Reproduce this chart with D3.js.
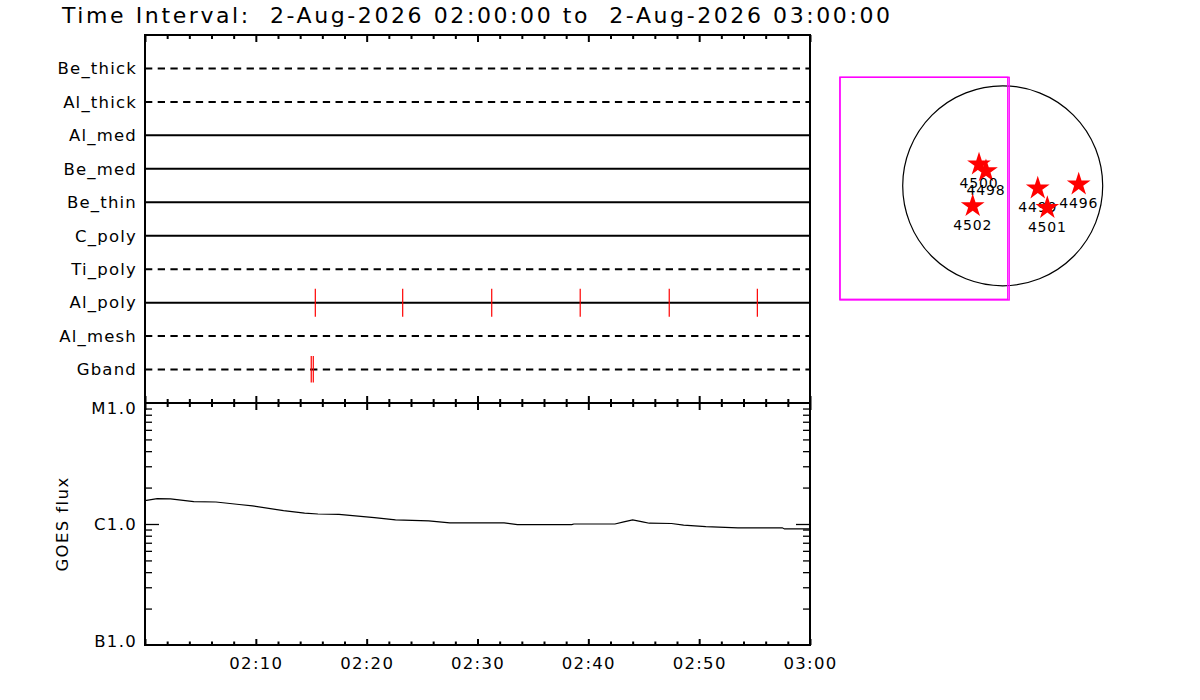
<!DOCTYPE html>
<html><head><meta charset="utf-8">
<script src="https://cdn.jsdelivr.net/npm/d3@7"></script>
<style>
body{margin:0;background:#fff;}
svg text{font-family:"DejaVu Sans",sans-serif;fill:#000;}
</style></head><body>
<svg id="c" width="1200" height="700"></svg>
<script>
// ---------------- data ----------------
const titleText = "Time Interval:  2-Aug-2026 02:00:00 to  2-Aug-2026 03:00:00";
const dayStr = "2026-08-02";
const startClock = "02:00:00", endClock = "03:00:00";
const channels = ["Be_thick","Al_thick","Al_med","Be_med","Be_thin","C_poly","Ti_poly","Al_poly","Al_mesh","Gband"];
const channelActive = [0,0,1,1,1,1,0,1,0,0];
const alPolyTimes = ["02:15:22","02:23:15","02:31:17","02:39:16","02:47:18","02:55:15"];
const gbandTimes = ["02:15:00","02:15:11"];
const timeTickLabels = ["02:10","02:20","02:30","02:40","02:50","03:00"];
const goesMinutes = [0, 1.1, 2.3, 4.4, 6.4, 8.5, 9.7, 12.5, 14.4, 15.6, 17.5, 20.7, 22.6, 25.6, 27.5, 32.4, 33.6, 38.5, 38.7, 42.4, 43.2, 44.0, 44.9, 45.5, 47.5, 48.6, 50.6, 53.5, 57.5, 57.7, 60.0];
const goesFlux = [1.56e-6,1.62e-6,1.61e-6,1.53e-6,1.52e-6,1.45e-6,1.41e-6,1.29e-6,1.23e-6,1.21e-6,1.20e-6,1.13e-6,1.08e-6,1.06e-6,1.02e-6,1.02e-6,0.99e-6,0.99e-6,1.00e-6,1.00e-6,1.04e-6,1.08e-6,1.04e-6,1.015e-6,1.01e-6,0.98e-6,0.95e-6,0.93e-6,0.93e-6,0.91e-6,0.91e-6];
const goesTickValues = [1e-7,1e-6,1e-5];
const goesTickLabels = ["B1.0","C1.0","M1.0"];
const goesMinorTicks = [2e-7,3e-7,4e-7,5e-7,6e-7,7e-7,8e-7,9e-7,2e-6,3e-6,4e-6,5e-6,6e-6,7e-6,8e-6,9e-6];
const goesAxisTitle = "GOES flux";
const solarRadius = 950; // arcsec
const arNumbers = ["4496","4498","4499","4500","4501","4502"];
const arX = [722, -159, 333, -225, 424, -285];
const arY = [14, 140, -24, 204, -209, -192];
const fovX0 = [-1546, -1546];
const fovX1 = [62, 48];
const fovY0 = [-1085, -1078];
const fovY1 = [1031, 1031];

// ---------------- layout ----------------
const L = 145, R = 810, T1 = 35, B1 = 403, B2 = 645;
const svg = d3.select("#c");
const parseT = s => new Date(dayStr + "T" + s + "Z");
const t0 = parseT(startClock), t1 = parseT(endClock);
const x = d3.scaleUtc().domain([t0, t1]).range([L, R]);
const yChan = d3.scalePoint().domain(channels).range([T1, B1]).padding(1);
const yGoes = d3.scaleLog().domain([1e-7, 1e-5]).range([B2, B1]);

// title
svg.append("text").attr("x", 62).attr("y", 23).attr("font-size", 22)
  .style("white-space", "pre").attr("xml:space", "preserve")
  .attr("textLength", 828).attr("lengthAdjust", "spacing").text(titleText);

// time tick sets
const allTicks = d3.utcMinute.every(2).range(t0, new Date(+t1 + 1));
const minorT = allTicks.filter(d => d.getUTCMinutes() % 10 !== 0);
const majorT = allTicks.filter(d => d.getUTCMinutes() % 10 === 0);

function timeTicks(axisFn, y, minLen, majLen) {
  [[minorT, minLen], [majorT, majLen]].forEach(([vals, len]) => {
    const g = svg.append("g").attr("transform", `translate(0,${y})`)
      .call(axisFn(x).tickValues(vals).tickSize(len).tickFormat(""));
    g.select(".domain").remove();
    g.selectAll("line").attr("stroke", "#000").attr("stroke-width", 2);
  });
}
timeTicks(d3.axisBottom, T1, 4, 7);
timeTicks(d3.axisTop, B1, 4, 7);
timeTicks(d3.axisBottom, B1, 4, 7);
timeTicks(d3.axisTop, B2, 3.5, 6);

// time labels
const labelVals = timeTickLabels.map(s => parseT(s + ":00"));
const gl = svg.append("g").attr("transform", `translate(0,${B2})`)
  .call(d3.axisBottom(x).tickValues(labelVals).tickSize(0).tickPadding(12)
    .tickFormat((d, i) => timeTickLabels[i]));
gl.select(".domain").remove();
gl.selectAll("text").attr("font-size", 16.5).attr("letter-spacing", 1.3).style("font-family", '"DejaVu Sans",sans-serif');

// channel lines
svg.append("g").selectAll("line").data(channels).join("line")
  .attr("x1", L).attr("x2", R)
  .attr("y1", d => yChan(d)).attr("y2", d => yChan(d))
  .attr("stroke", "#000").attr("stroke-width", 2)
  .attr("stroke-dasharray", (d, i) => channelActive[i] ? null : "7.3,5.4");

// channel labels
const gc = svg.append("g").attr("transform", `translate(${L},0)`)
  .call(d3.axisLeft(yChan).tickSize(0).tickPadding(8));
gc.select(".domain").remove();
gc.selectAll("text").attr("font-size", 16.5).attr("letter-spacing", 1.2).style("font-family", '"DejaVu Sans",sans-serif');

// Al_poly red ticks
const yAP = yChan("Al_poly");
svg.append("g").selectAll("line").data(alPolyTimes).join("line")
  .attr("x1", d => x(parseT(d))).attr("x2", d => x(parseT(d)))
  .attr("y1", yAP - 14).attr("y2", yAP + 14)
  .attr("stroke", "#ff0000").attr("stroke-width", 1.2);
// Gband red marks
const yGB = yChan("Gband");
svg.append("g").selectAll("line").data(gbandTimes).join("line")
  .attr("x1", d => x(parseT(d))).attr("x2", d => x(parseT(d)))
  .attr("y1", yGB - 13.5).attr("y2", yGB + 13)
  .attr("stroke", "#ff0000").attr("stroke-width", 1.2);

// GOES y axes
function goesTicks(axisFn, xpos) {
  [[goesMinorTicks, 7], [[1e-6], 14]].forEach(([vals, len]) => {
    const g = svg.append("g").attr("transform", `translate(${xpos},0)`)
      .call(axisFn(yGoes).tickValues(vals).tickSize(len).tickFormat(""));
    g.select(".domain").remove();
    g.selectAll("line").attr("stroke", "#000").attr("stroke-width", 1.3);
  });
}
goesTicks(d3.axisRight, L);
goesTicks(d3.axisLeft, R);
const gy = svg.append("g").attr("transform", `translate(${L},0)`)
  .call(d3.axisLeft(yGoes).tickValues(goesTickValues).tickSize(0).tickPadding(8)
    .tickFormat((d, i) => goesTickLabels[i]));
gy.select(".domain").remove();
gy.selectAll("text").attr("font-size", 16.5).attr("letter-spacing", 1.3).style("font-family", '"DejaVu Sans",sans-serif');
gy.selectAll(".tick").filter(d => d === 1e-5).select("text").attr("dy", "0.62em");
gy.selectAll(".tick").filter(d => d === 1e-7).select("text").attr("dy", "0.1em");

svg.append("text").attr("transform", `translate(68,${(B1 + B2) / 2}) rotate(-90)`)
  .attr("text-anchor", "middle").attr("font-size", 16.5).attr("letter-spacing", 1.4).text(goesAxisTitle);

// GOES curve
const goesData = goesMinutes.map((m, i) => ({t: new Date(+t0 + m * 60000), f: goesFlux[i]}));
svg.append("path").datum(goesData)
  .attr("d", d3.line().x(d => x(d.t)).y(d => yGoes(d.f)))
  .attr("fill", "none").attr("stroke", "#000").attr("stroke-width", 1.2);

// frames
const frame = svg.append("g").attr("fill", "none").attr("stroke", "#000").attr("stroke-width", 2);
frame.append("rect").attr("x", L).attr("y", T1).attr("width", R - L).attr("height", B1 - T1);
frame.append("rect").attr("x", L).attr("y", B1).attr("width", R - L).attr("height", B2 - B1);

// ---------------- solar disk ----------------
const sx = d3.scaleLinear().domain([-solarRadius, solarRadius]).range([902.7, 1102.7]);
const sy = d3.scaleLinear().domain([-solarRadius, solarRadius]).range([285.8, 85.8]);
svg.append("circle").attr("cx", sx(0)).attr("cy", sy(0)).attr("r", sx(solarRadius) - sx(0))
  .attr("fill", "none").attr("stroke", "#000").attr("stroke-width", 1.2);
svg.append("g").selectAll("rect").data(fovX0).join("rect")
  .attr("x", (d, i) => sx(fovX0[i])).attr("y", (d, i) => sy(fovY1[i]))
  .attr("width", (d, i) => sx(fovX1[i]) - sx(fovX0[i]))
  .attr("height", (d, i) => sy(fovY0[i]) - sy(fovY1[i]))
  .attr("fill", "none").attr("stroke", "#ff00ff").attr("stroke-width", 1.3);

const star = d3.symbol().type(d3.symbolStar).size(175);
const ar = svg.append("g").selectAll("g").data(arNumbers).join("g")
  .attr("transform", (d, i) => `translate(${sx(arX[i])},${sy(arY[i])})`);
ar.append("path").attr("d", star).attr("fill", "#ff0000");
ar.append("text").attr("y", 24).attr("text-anchor", "middle").attr("font-size", 14)
  .attr("letter-spacing", 0.8).text(d => d);
</script>
</body></html>
